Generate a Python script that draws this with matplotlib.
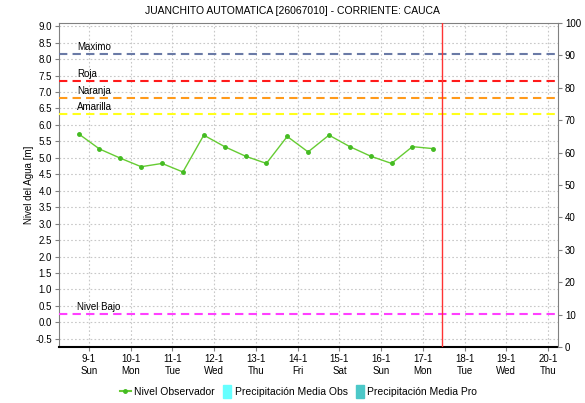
import datetime as dt

import matplotlib
matplotlib.use("Agg")
import matplotlib.pyplot as plt
from matplotlib.lines import Line2D
from matplotlib.patches import Patch, Rectangle
from matplotlib.legend_handler import HandlerPatch

plt.rcParams["font.family"] = ["Liberation Sans", "DejaVu Sans"]
plt.rcParams["font.size"] = 7

# Observed water level, readings at 06:00 and 18:00
start = dt.datetime(2022, 1, 8, 18)
nivel = [5.73, 5.27, 4.99, 4.73, 4.83, 4.57, 5.69, 5.34, 5.05, 4.83,
         5.65, 5.18, 5.69, 5.34, 5.05, 4.83, 5.34, 5.28]
fechas = [start + dt.timedelta(hours=12 * i) for i in range(len(nivel))]

# Alert thresholds
umbrales = ["Maximo", "Roja", "Naranja", "Amarilla", "Nivel Bajo"]
umbral_valores = [8.16, 7.35, 6.83, 6.34, 0.24]
umbral_colores = ["#6A7AA6", "#FF1A1A", "#FF9A1A", "#FFFF1A", "#FF40FF"]

ahora = dt.datetime(2022, 1, 17, 11)
dias = [dt.datetime(2022, 1, d) for d in range(9, 21)]

fig = plt.figure(figsize=(5.85, 4.03), dpi=100)
ax = fig.add_axes([0.1009, 0.139, 0.853, 0.804])

ax.plot(fechas, nivel, color="#66CC33", lw=1, marker="o", ms=2.5,
        markerfacecolor="#44BB22", markeredgecolor="#44BB22", zorder=4)

x_txt = dt.datetime(2022, 1, 8, 17)
for nombre, valor, color in zip(umbrales, umbral_valores, umbral_colores):
    ax.axhline(valor, color=color, lw=1.5, ls=(0, (4, 2.5)), zorder=3)
    ax.text(x_txt, valor + 0.06, nombre, fontsize=7, va="bottom", ha="left")

ax.axvline(ahora, color="#FF3333", lw=1, zorder=3)

ax.set_xlim(dt.datetime(2022, 1, 8, 6, 45), dt.datetime(2022, 1, 20, 5, 45))
ax.set_ylim(-0.75, 9.1)
ax.set_yticks([i * 0.5 for i in range(-1, 19)])
ax.set_yticklabels([f"{i * 0.5:.1f}" for i in range(-1, 19)])
ax.set_xticks(dias)
ax.set_xticklabels([f"{d.day}-{d.month}\n{d.strftime('%a')}" for d in dias])
ax.set_ylabel("Nivel del Agua [m]", fontsize=7, labelpad=1)

ax.grid(True, color="#C8C8C8", ls=(0, (1.5, 2)), lw=0.8)
ax.tick_params(axis="both", length=3, color="#808080", labelsize=7, pad=2)

for s in ["left", "top", "right"]:
    ax.spines[s].set_color("#808080")
ax.spines["bottom"].set_linestyle((0, (1, 1)))
ax.spines["bottom"].set_linewidth(1.5)

ax2 = ax.twinx()
ax2.set_ylim(0, 100)
ax2.set_yticks(range(0, 101, 10))
ax2.tick_params(axis="y", length=3, color="#808080", labelsize=7, pad=2)
for s in ["left", "top", "right", "bottom"]:
    ax2.spines[s].set_visible(False)

fig.suptitle("JUANCHITO AUTOMATICA [26067010] - CORRIENTE: CAUCA",
             fontsize=7.5, y=1 - 11 / 403, va="center")


# narrow colour block used for the rain series in the legend
def bloque(legend, orig_handle, xdescent, ydescent, width, height, fontsize):
    return Rectangle((width - 6 - xdescent, -ydescent - 1), 6, height + 2)


handles = [
    Line2D([], [], color="#66CC33", marker="o", ms=2.5,
           markerfacecolor="#44BB22", markeredgecolor="#44BB22"),
    Patch(color="#66FFFF"),
    Patch(color="#4CC8C8"),
]
labels = ["Nivel Observador", "Precipitación Media Obs", "Precipitación Media Pro"]
fig.legend(handles, labels, loc="center", bbox_to_anchor=(0.51, 1 - 392 / 403),
           ncol=3, frameon=False, fontsize=7.5, handlelength=1.1,
           handletextpad=0.3, columnspacing=0.5, handleheight=1.0,
           handler_map={Patch: HandlerPatch(patch_func=bloque)})

fig.savefig("out.png", dpi=100)
